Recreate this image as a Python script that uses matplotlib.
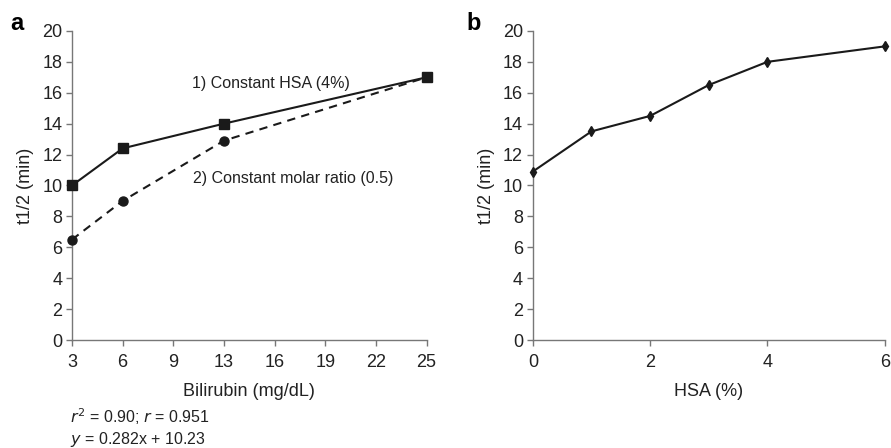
import matplotlib
matplotlib.use("Agg")
import matplotlib.pyplot as plt

plt.rcParams['font.family'] = ['Liberation Sans', 'DejaVu Sans']

# panel a: half-life vs bilirubin (categorical-style x axis)
bili_ticks = [3, 6, 9, 13, 16, 19, 22, 25]
bili = [3, 6, 13, 25]
t_const_hsa = [10.0, 12.4, 14.0, 17.0]
t_const_ratio = [6.5, 9.0, 12.9, 17.0]

# panel b: half-life vs HSA
hsa = [0, 1, 2, 3, 4, 6]
t_hsa = [10.9, 13.5, 14.5, 16.5, 18.0, 19.0]

y_ticks = list(range(0, 21, 2))
axis_col = '#777777'
line_col = '#1a1a1a'
text_col = '#222222'
fs = 13

fig = plt.figure(figsize=(8.91, 4.48), dpi=100)
ax1 = fig.add_axes([0.0808, 0.241, 0.398, 0.690])
ax2 = fig.add_axes([0.598, 0.241, 0.395, 0.690])


def style_axes(ax):
    for s in ['top', 'right']:
        ax.spines[s].set_visible(False)
    for s in ['left', 'bottom']:
        ax.spines[s].set_color(axis_col)
        ax.spines[s].set_linewidth(1.0)
    ax.tick_params(colors=axis_col, labelcolor=text_col, labelsize=fs,
                   length=4, width=1.0, direction='out')
    ax.tick_params(axis='x', pad=6)
    ax.tick_params(axis='y', pad=3)
    ax.set_ylim(0, 20)
    ax.set_yticks(y_ticks)


# x positions taken from the tick list
pos = [bili_ticks.index(v) for v in bili]
ax1.plot(pos, t_const_hsa, '-', color=line_col, lw=1.5, marker='s',
         ms=6.5, clip_on=False, zorder=3)
ax1.plot(pos, t_const_ratio, '--', color=line_col, lw=1.5, marker='o',
         ms=6.5, dashes=(4, 3), clip_on=False, zorder=3)
style_axes(ax1)
ax1.set_xlim(0, len(bili_ticks) - 1)
ax1.set_xticks(range(len(bili_ticks)))
ax1.set_xticklabels([str(t) for t in bili_ticks])
ax1.set_xlabel('Bilirubin (mg/dL)', fontsize=fs, color=text_col, labelpad=9)
ax1.set_ylabel('t1/2 (min)', fontsize=fs, color=text_col, labelpad=6)
ax1.text(3.92, 16.6, '1) Constant HSA (4%)', fontsize=11.5, color=text_col,
         ha='center', va='center')
ax1.text(4.37, 10.45, '2) Constant molar ratio (0.5)', fontsize=11.5,
         color=text_col, ha='center', va='center')

ax2.plot(hsa, t_hsa, '-', color=line_col, lw=1.5, marker='d', ms=5.5,
         clip_on=False, zorder=3)
style_axes(ax2)
ax2.set_xlim(0, 6)
ax2.set_xticks([0, 2, 4, 6])
ax2.set_xlabel('HSA (%)', fontsize=fs, color=text_col, labelpad=9)
ax2.set_ylabel('t1/2 (min)', fontsize=fs, color=text_col, labelpad=6)

fig.text(0.011, 0.933, 'a', fontsize=17, fontweight='bold', va='baseline')
fig.text(0.524, 0.933, 'b', fontsize=17, fontweight='bold', va='baseline')

fig.text(0.0786, 0.069, r'$r^2$ = 0.90; $r$ = 0.951', fontsize=11.5,
         color=text_col, va='center')
fig.text(0.0786, 0.018, r'$y$ = 0.282x + 10.23', fontsize=11.5,
         color=text_col, va='center')

fig.savefig('out.png', dpi=100)
